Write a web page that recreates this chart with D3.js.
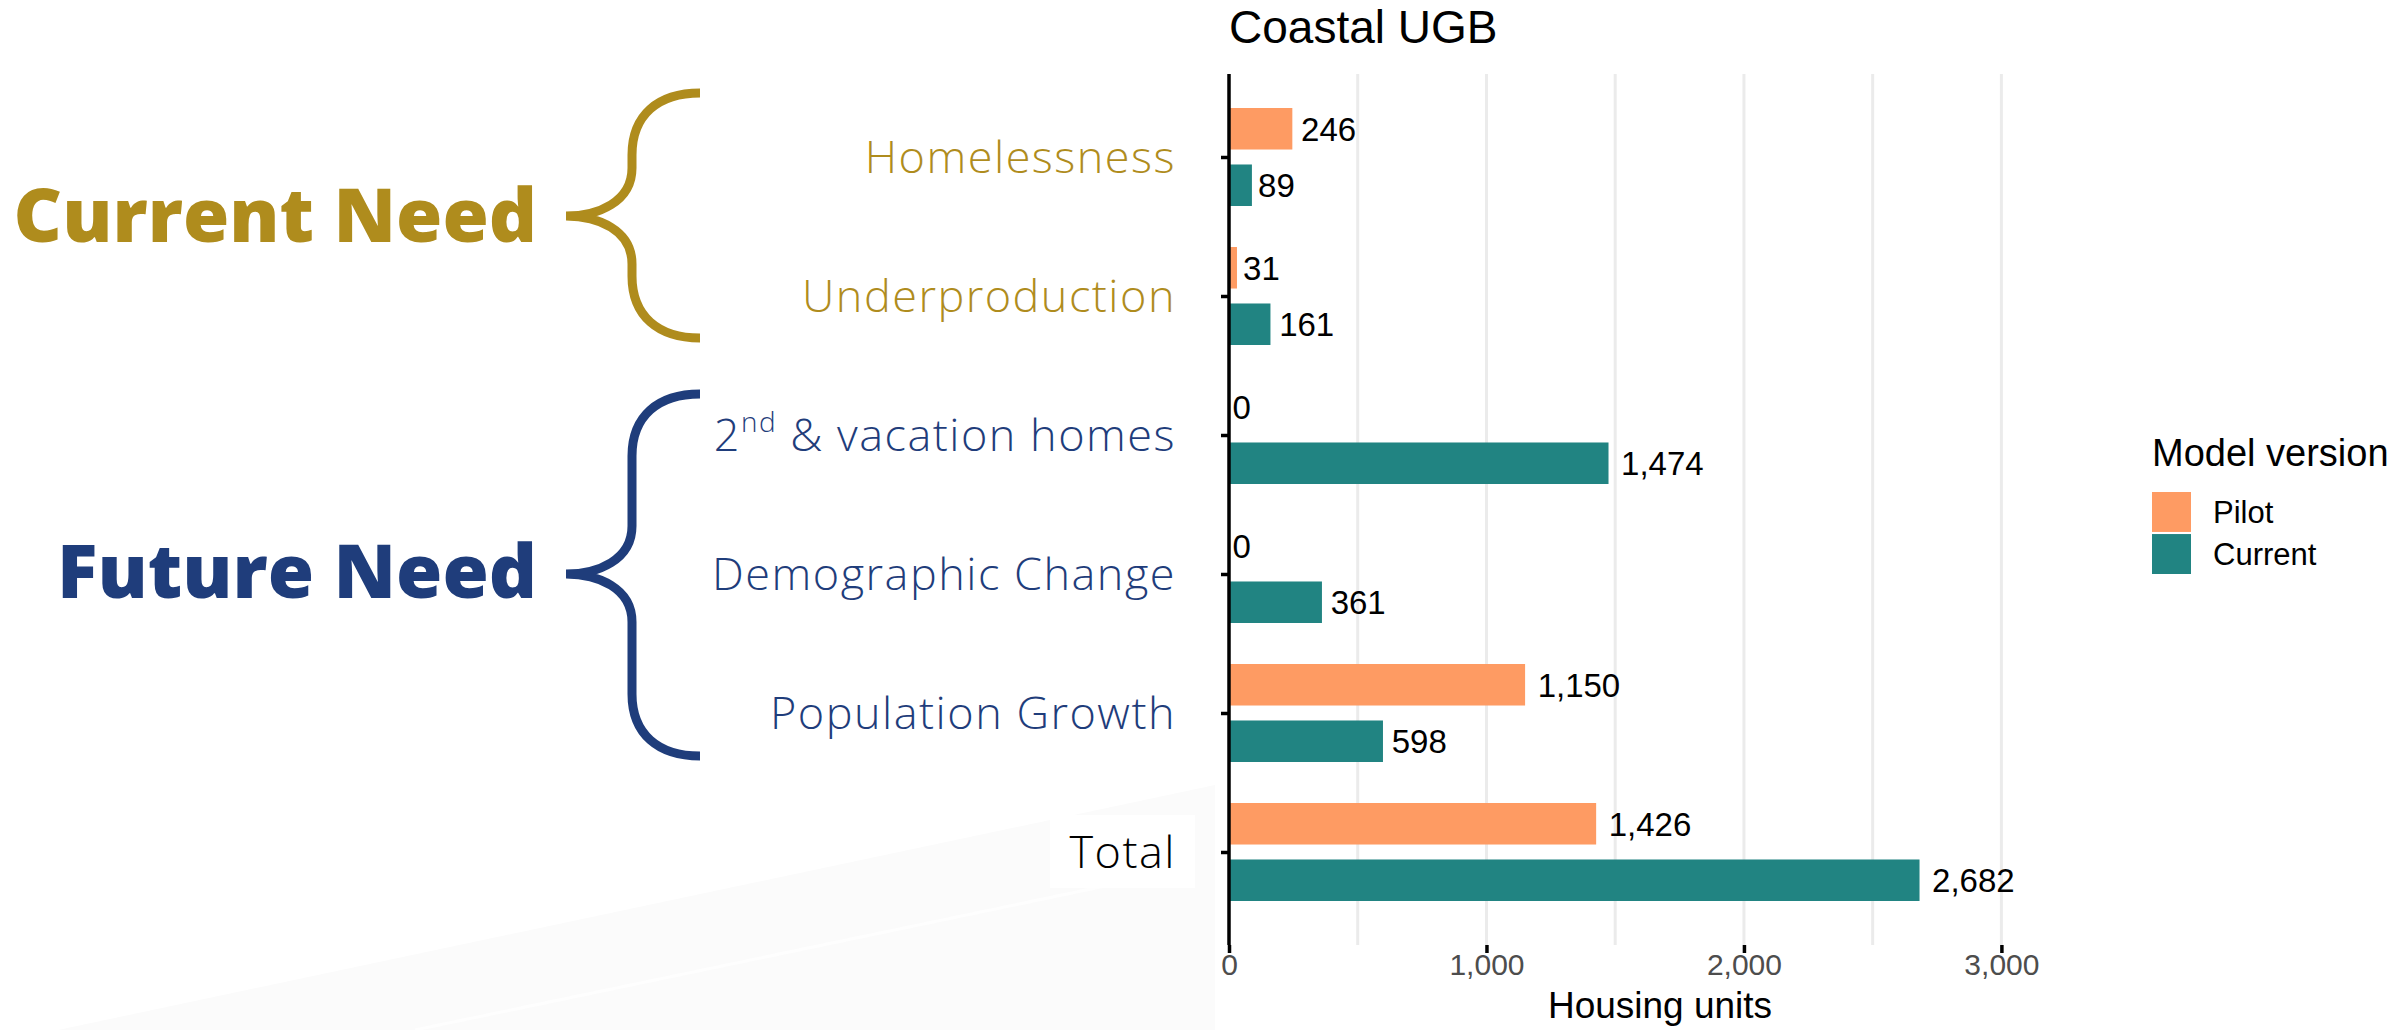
<!DOCTYPE html>
<html>
<head>
<meta charset="utf-8">
<script src="https://cdn.jsdelivr.net/npm/d3@7"></script>
<style>
  html, body { margin: 0; padding: 0; background: #ffffff; }
  svg { display: block; }
</style>
</head>
<body>
<svg id="chart" width="2407" height="1030"></svg>
<script>
// Housing need components, Coastal UGB
const categories = ["Homelessness", "Underproduction", "2nd & vacation homes", "Demographic Change", "Population Growth", "Total"];
const seriesNames = ["Pilot", "Current"];
const pilotValues = [246, 31, 0, 0, 1150, 1426];
const currentValues = [89, 161, 1474, 361, 598, 2682];
const xTickValues = [0, 1000, 2000, 3000];
const gridValues = [500, 1000, 1500, 2000, 2500, 3000];
const groupNames = ["Current Need", "Future Need"];
const categoryGroup = ["current", "current", "future", "future", "future", "total"];

const colors = { Pilot: "#FE9B63", Current: "#218482" };
const groupColors = { current: "#AF8C1D", future: "#1F3D7B", total: "#000000" };

const svg = d3.select("#chart");
const sansChart = "'Liberation Sans', Arial, Helvetica, sans-serif";
const sansLabel = "'Open Sans', 'Noto Sans', sans-serif";

// faint slide backdrop in the lower left
const bg = svg.append("g");
bg.append("path")
  .attr("d", "M58,1030 L1215,785 L1215,1030 Z")
  .attr("fill", "#fbfbfb");
bg.append("path")
  .attr("d", "M415,1030 L1110,885")
  .attr("stroke", "#fefefe").attr("stroke-width", 3).attr("fill", "none");

// panel geometry
const panel = { left: 1229, right: 2091, top: 74, bottom: 945 };

const x = d3.scaleLinear().domain([0, 3348]).range([panel.left, panel.right]);
const y = d3.scalePoint().domain(categories).range([157, 852]);
const inner = d3.scaleBand().domain(seriesNames).range([-49, 49]).paddingInner(0.265);

// gridlines
svg.append("g").selectAll("line").data(gridValues).join("line")
  .attr("x1", d => x(d)).attr("x2", d => x(d))
  .attr("y1", panel.top).attr("y2", panel.bottom)
  .attr("stroke", "#ebebeb").attr("stroke-width", 3);

// bars
const rows = categories.map((c, i) => ({ category: c, Pilot: pilotValues[i], Current: currentValues[i] }));
const flat = [];
rows.forEach(r => seriesNames.forEach(s => flat.push({ category: r.category, series: s, value: r[s] })));

svg.append("g").selectAll("rect").data(flat).join("rect")
  .attr("x", x(0))
  .attr("y", d => y(d.category) + inner(d.series))
  .attr("width", d => x(d.value) - x(0))
  .attr("height", inner.bandwidth())
  .attr("fill", d => colors[d.series]);

// value labels
const fmt = d3.format(",");
const vlabels = svg.append("g").selectAll("text").data(flat).join("text")
  .attr("font-family", sansChart)
  .attr("font-size", 33)
  .attr("fill", "#000")
  .attr("y", d => y(d.category) + inner(d.series) + inner.bandwidth() / 2 + 0.358 * 33)
  .text(d => fmt(d.value));
vlabels.each(function(d) {
  const w = this.getComputedTextLength();
  d3.select(this).attr("x", x(d.value) + 0.14 * w + 1);
});

// y axis line and ticks
svg.append("line")
  .attr("x1", panel.left).attr("x2", panel.left)
  .attr("y1", panel.top).attr("y2", panel.bottom)
  .attr("stroke", "#000").attr("stroke-width", 3.5);

const yAxis = svg.append("g")
  .attr("transform", `translate(${panel.left},0)`)
  .call(d3.axisLeft(y).tickSize(8).tickSizeOuter(0).tickFormat(""));
yAxis.select(".domain").remove();
yAxis.selectAll(".tick line").attr("stroke", "#000").attr("stroke-width", 3.5);

// x axis
const xAxis = svg.append("g")
  .attr("transform", `translate(0,${panel.bottom})`)
  .call(d3.axisBottom(x).tickValues(xTickValues).tickFormat(fmt).tickSize(8).tickSizeOuter(0).tickPadding(1));
xAxis.select(".domain").remove();
xAxis.selectAll(".tick line").attr("stroke", "#000").attr("stroke-width", 3.5);
xAxis.selectAll(".tick text")
  .attr("font-family", sansChart).attr("font-size", 30).attr("fill", "#4d4d4d");

// axis title
svg.append("text")
  .attr("x", (panel.left + panel.right) / 2).attr("y", 1018)
  .attr("text-anchor", "middle")
  .attr("font-family", sansChart).attr("font-size", 37).attr("fill", "#000")
  .text("Housing units");

// plot title
svg.append("text")
  .attr("x", panel.left).attr("y", 43)
  .attr("font-family", sansChart).attr("font-size", 46).attr("fill", "#000")
  .text("Coastal UGB");

// legend
const legend = svg.append("g").attr("transform", "translate(2152,0)");
legend.append("text")
  .attr("x", 0).attr("y", 466)
  .attr("font-family", sansChart).attr("font-size", 38).attr("fill", "#000")
  .text("Model version");
const keyY = d3.scaleBand().domain(seriesNames).range([492, 574]).paddingInner(0.05);
legend.selectAll("rect").data(seriesNames).join("rect")
  .attr("x", 0).attr("y", d => keyY(d))
  .attr("width", 39).attr("height", keyY.bandwidth())
  .attr("fill", d => colors[d]);
legend.selectAll("text.key").data(seriesNames).join("text")
  .attr("class", "key")
  .attr("x", 61).attr("y", d => keyY(d) + keyY.bandwidth() / 2 + 0.358 * 31)
  .attr("font-family", sansChart).attr("font-size", 31).attr("fill", "#000")
  .text(d => d);

// white box behind "Total"
svg.append("rect")
  .attr("x", 1050).attr("y", y("Total") - 37).attr("width", 145).attr("height", 73)
  .attr("fill", "#ffffff");

// category labels
const catFont = 45;
const catLabels = svg.append("g").selectAll("text").data(categories).join("text")
  .attr("x", 1176)
  .attr("y", d => y(d) + 0.35 * catFont)
  .attr("text-anchor", "end")
  .attr("font-family", sansLabel)
  .attr("font-weight", 300)
  .attr("font-size", catFont)
  .attr("letter-spacing", 1.5)
  .attr("fill", (d, i) => groupColors[categoryGroup[i]]);
catLabels.each(function(d) {
  const t = d3.select(this);
  if (d.startsWith("2nd")) {
    t.append("tspan").text("2");
    t.append("tspan").attr("baseline-shift", "super").attr("font-size", catFont * 0.62).text("nd");
    t.append("tspan").text(" & vacation homes");
  } else {
    t.text(d);
  }
});

// curly braces grouping the categories
function bracePath(top, tip, bottom) {
  const end = 700, stem = 632, tx = 566;
  return `M${end},${top}` +
    ` C${end - 42},${top} ${stem},${top + 22} ${stem},${top + 62}` +
    ` L${stem},${tip - 48}` +
    ` C${stem},${tip - 14} ${tx + 32},${tip} ${tx},${tip}` +
    ` C${tx + 32},${tip} ${stem},${tip + 14} ${stem},${tip + 48}` +
    ` L${stem},${bottom - 62}` +
    ` C${stem},${bottom - 22} ${end - 42},${bottom} ${end},${bottom}`;
}
const braces = [
  { name: groupNames[0], color: groupColors.current, top: 93, tip: 216, bottom: 338, baseline: 242 },
  { name: groupNames[1], color: groupColors.future, top: 394, tip: 574, bottom: 756, baseline: 598 }
];
svg.append("g").selectAll("path").data(braces).join("path")
  .attr("d", d => bracePath(d.top, d.tip, d.bottom))
  .attr("fill", "none")
  .attr("stroke", d => d.color)
  .attr("stroke-width", 9)
  .attr("stroke-linejoin", "miter");

svg.append("g").selectAll("text").data(braces).join("text")
  .attr("x", 537).attr("y", d => d.baseline)
  .attr("text-anchor", "end")
  .attr("font-family", sansLabel)
  .attr("font-weight", 800)
  .attr("font-size", 75)
  .attr("fill", d => d.color)
  .text(d => d.name);
</script>
</body>
</html>
